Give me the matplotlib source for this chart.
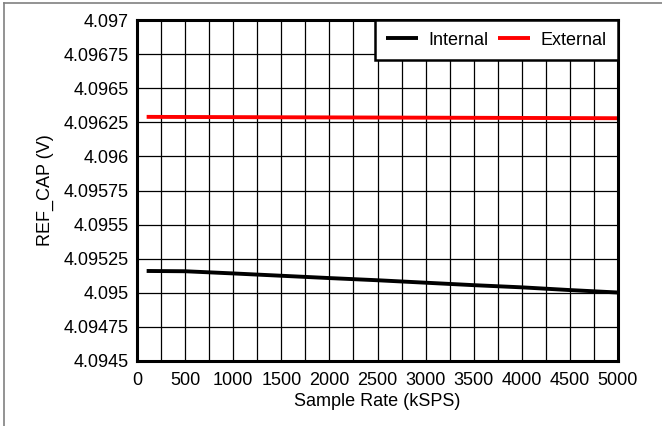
import numpy as np
import matplotlib
matplotlib.use("Agg")
import matplotlib.pyplot as plt
from matplotlib.lines import Line2D

plt.rcParams['font.family'] = ['Liberation Sans', 'DejaVu Sans']

# sample rate (kSPS)
rate = [100, 500, 1000, 1500, 2000, 2500, 3000, 3500, 4000, 4500, 5000]
# REF_CAP voltage (V)
internal = [4.095160, 4.095158, 4.095142, 4.095125, 4.095108, 4.095092,
            4.095074, 4.095056, 4.095040, 4.095020, 4.095002]
external = [4.096290, 4.096289, 4.096288, 4.096287, 4.096286, 4.096285,
            4.096284, 4.096283, 4.096282, 4.096281, 4.096280]

xticks = np.arange(0, 5001, 500)
yticks = [4.0945, 4.09475, 4.095, 4.09525, 4.0955, 4.09575,
          4.096, 4.09625, 4.0965, 4.09675, 4.097]
ytick_labels = ['4.0945', '4.09475', '4.095', '4.09525', '4.0955', '4.09575',
                '4.096', '4.09625', '4.0965', '4.09675', '4.097']

fig = plt.figure(figsize=(6.62, 4.26), dpi=100)
ax = fig.add_axes([0.207, 0.1526, 0.7265, 0.8004])

ax.plot(rate, internal, color='black', lw=2.8, label='Internal', solid_capstyle='butt')
ax.plot(rate, external, color='red', lw=2.8, label='External', solid_capstyle='butt')

ax.set_xlim(0, 5000)
ax.set_ylim(4.0945, 4.097)
ax.set_xticks(xticks)
ax.set_xticks(np.arange(250, 5000, 500), minor=True)
ax.set_yticks(yticks)
ax.set_yticklabels(ytick_labels)
ax.tick_params(which='both', length=0, labelsize=13)
ax.tick_params(axis='x', pad=8)
ax.tick_params(axis='y', pad=6)
ax.grid(True, which='both', axis='x', color='black', lw=0.9)
ax.grid(True, which='major', axis='y', color='black', lw=0.9)
ax.set_axisbelow(True)
for sp in ax.spines.values():
    sp.set_linewidth(2.2)

ax.set_xlabel('Sample Rate (kSPS)', fontsize=13, labelpad=3)
ax.set_ylabel('REF_CAP (V)', fontsize=13, labelpad=7)

leg = ax.legend(loc='upper right', ncol=2, fontsize=13, frameon=True, fancybox=False,
                borderaxespad=0, handlelength=1.77, columnspacing=0.55,
                handletextpad=0.55, borderpad=0.65)
leg.get_frame().set_edgecolor('black')
leg.get_frame().set_linewidth(1.8)
leg.get_frame().set_alpha(1)

# gray frame around the figure (top and left)
fig.add_artist(Line2D([4 / 662, 1], [1 - 3 / 426, 1 - 3 / 426], color='gray', lw=1.2))
fig.add_artist(Line2D([4 / 662, 4 / 662], [0, 1 - 3 / 426], color='gray', lw=1.2))

fig.savefig('out.png', dpi=100)
